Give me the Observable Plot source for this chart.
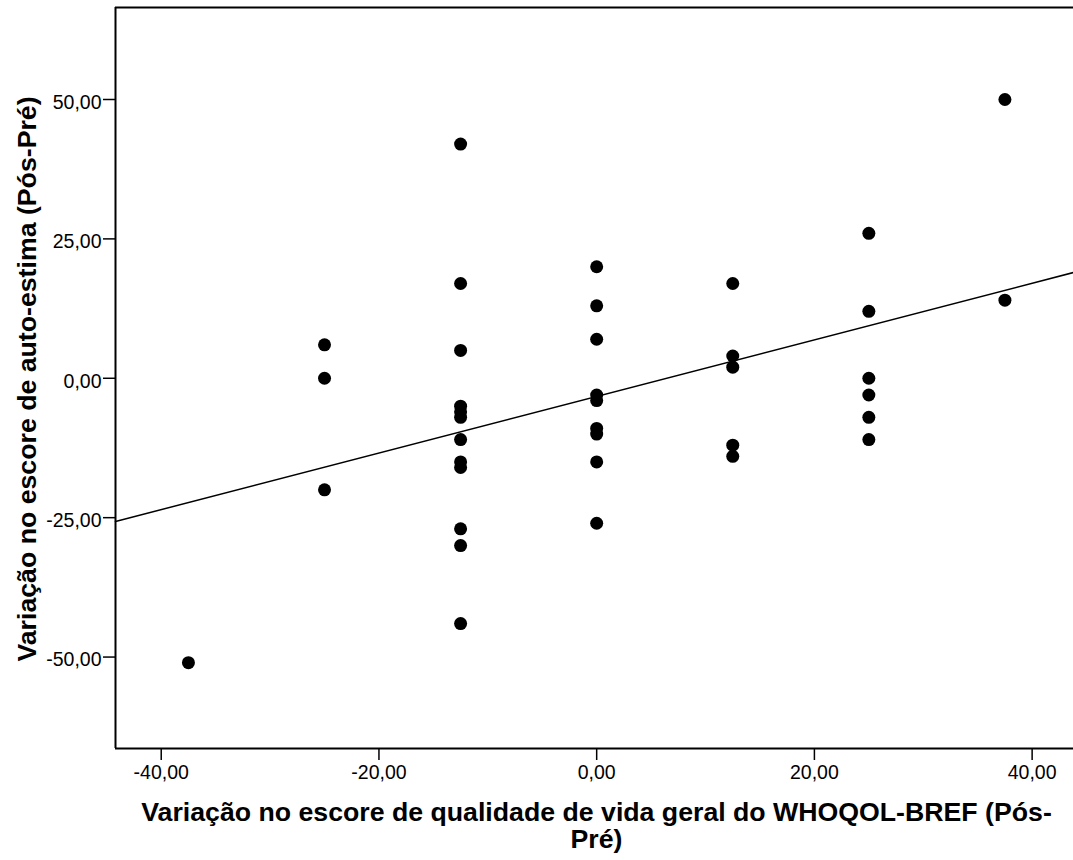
<!DOCTYPE html>
<html><head><meta charset="utf-8">
<script src="https://cdn.jsdelivr.net/npm/d3@7"></script>
<script src="https://cdn.jsdelivr.net/npm/@observablehq/plot@0.6"></script>
<style>body{margin:0;background:#fff}</style>
</head><body><div id="chart"></div>
<script>
// Change in WHOQOL-BREF overall quality of life score (Post-Pre)
const xChange = [
  -37.5,
  -25, -25, -25,
  -12.5, -12.5, -12.5, -12.5, -12.5, -12.5, -12.5, -12.5, -12.5, -12.5, -12.5, -12.5,
  0, 0, 0, 0, 0, 0, 0, 0, 0,
  12.5, 12.5, 12.5, 12.5, 12.5,
  25, 25, 25, 25, 25, 25,
  37.5, 37.5
];
// Change in self-esteem score (Post-Pre)
const yChange = [
  -51,
  6, 0, -20,
  42, 17, 5, -5, -6, -7, -11, -15, -16, -27, -30, -44,
  20, 13, 7, -3, -4, -9, -10, -15, -26,
  17, 4, 2, -12, -14,
  26, 12, 0, -3, -7, -11,
  50, 14
];
const xTicks = [-40, -20, 0, 20, 40];
const yTicks = [-50, -25, 0, 25, 50];
const xDomain = [-44.2, 43.8];
const yDomain = [-66.4, 66.5];
const xTitle = "Variação no escore de qualidade de vida geral do WHOQOL-BREF (Pós-\nPré)";
const yTitle = "Variação no escore de auto-estima (Pós-Pré)";

const points = xChange.map((x, i) => ({x, y: yChange[i]}));
const mx = d3.mean(points, d => d.x), my = d3.mean(points, d => d.y);
const slope = d3.sum(points, d => (d.x - mx) * (d.y - my)) / d3.sum(points, d => (d.x - mx) ** 2);
const intercept = my - slope * mx;
const fit = xDomain.map(x => ({x, y: intercept + slope * x}));
const fmt = d => d.toFixed(2).replace(".", ",");

const chart = Plot.plot({
  width: 1073, height: 860,
  marginLeft: 115, marginRight: 0, marginTop: 7, marginBottom: 112,
  style: {fontFamily: "'Liberation Sans', Arial, sans-serif", fontSize: "19px", background: "#fff", color: "#000"},
  x: {domain: xDomain},
  y: {domain: yDomain},
  marks: [
    Plot.axisX({ticks: xTicks, tickSize: 12, tickPadding: 5, tickFormat: fmt, label: null, strokeWidth: 1.5, fontSize: 19.5}),
    Plot.axisY({ticks: yTicks, tickSize: 12, fill: "none", label: null, strokeWidth: 1.5}),
    Plot.axisY({ticks: yTicks, tickSize: 0, tickPadding: 14, dy: 3, tickFormat: fmt, label: null, fontSize: 19.5}),
    Plot.ruleX([xDomain[0]], {stroke: "#000", strokeWidth: 2}),
    Plot.ruleY([yDomain[0], yDomain[1]], {stroke: "#000", strokeWidth: 2}),
    Plot.line(fit, {x: "x", y: "y", stroke: "#000", strokeWidth: 1.5}),
    Plot.dot(points, {x: "x", y: "y", r: 6.5, fill: "#000", stroke: "none"}),
    Plot.text([xTitle], {frameAnchor: "bottom", dx: 2, dy: 53, lineAnchor: "top", lineHeight: 1.02,
      fontSize: 26.7, fontWeight: "bold", fill: "#000"}),
    Plot.text([yTitle], {frameAnchor: "left", dx: -80, dy: 1, rotate: -90, lineAnchor: "bottom", textAnchor: "middle",
      fontSize: 26.7, fontWeight: "bold", fill: "#000"})
  ]
});
document.getElementById("chart").appendChild(chart);
</script>
</body></html>
